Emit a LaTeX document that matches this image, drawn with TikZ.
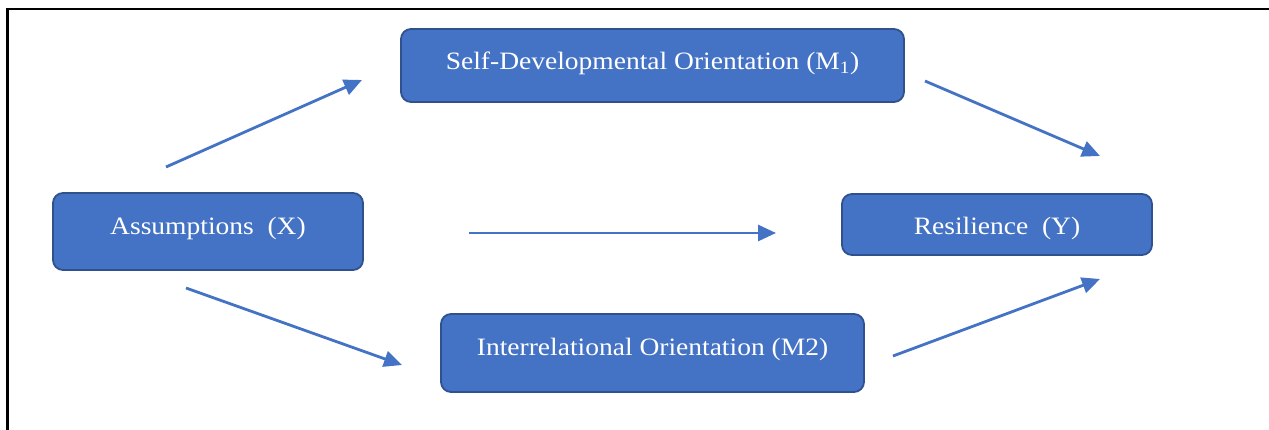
\documentclass[tikz,border=0pt]{standalone}
\usepackage{fontspec}
\setmainfont{Liberation Serif}[FakeStretch=1.1]
\usetikzlibrary{arrows.meta}
\definecolor{boxfill}{HTML}{4472C4}
\definecolor{boxline}{HTML}{2F528F}
\definecolor{arrowcol}{HTML}{4472C4}
\newcommand{\boxtext}[2]{\raisebox{#1}[0pt][0pt]{#2}}
\begin{document}
\begin{tikzpicture}[x=1pt,y=-1pt,
  vbox/.style={draw=boxline,fill=boxfill,line width=1.8pt,rounded corners=10pt,
    text=white,font=\fontsize{25}{30}\selectfont,inner sep=0pt},
  link/.style={draw=arrowcol,line width=2.8pt,-{Triangle[length=18pt,width=16pt]}}]
\useasboundingbox (0,0) rectangle (1269,430);
\draw[line width=2.6pt,line cap=rect] (1269,9) -- (7.5,9) -- (7.5,430);
\node[vbox,minimum width=310pt,minimum height=77pt] (x) at (208,231.5) {\boxtext{-3.5pt}{Assumptions\ \ (X)}};
\node[vbox,minimum width=503pt,minimum height=73pt] (m1) at (652.5,65.5) {\boxtext{-4pt}{Self-Developmental Orientation (M\textsubscript{1})}};
\node[vbox,minimum width=310pt,minimum height=61pt] (y) at (997,224.5) {\boxtext{-10.5pt}{Resilience\ \ (Y)}};
\node[vbox,minimum width=423pt,minimum height=78pt] (m2) at (652.5,353) {\boxtext{-2pt}{Interrelational Orientation (M2)}};
\coordinate (a1s) at (166,167); \coordinate (a1e) at (362,80);
\coordinate (a2s) at (925,81); \coordinate (a2e) at (1100,156);
\coordinate (a3s) at (469,233); \coordinate (a3e) at (776,233);
\coordinate (a4s) at (186,288); \coordinate (a4e) at (402,365);
\coordinate (a5s) at (893,356); \coordinate (a5e) at (1100,279);
\draw[link] (a1s) -- (a1e);
\draw[link] (a2s) -- (a2e);
\draw[link] (a3s) -- (a3e);
\draw[link] (a4s) -- (a4e);
\draw[link] (a5s) -- (a5e);
\end{tikzpicture}
\end{document}
